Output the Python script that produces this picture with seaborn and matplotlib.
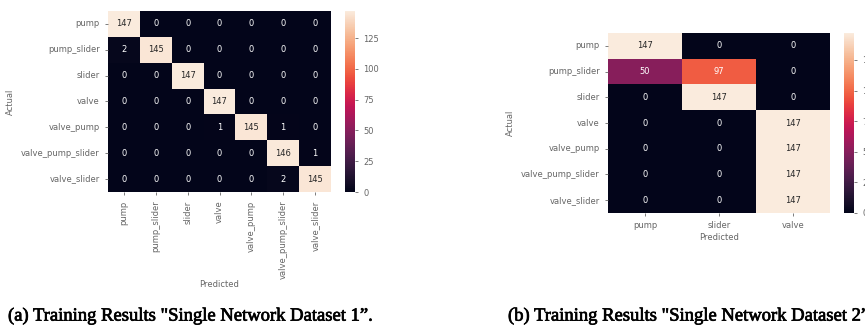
import numpy as np
import pandas as pd
import matplotlib
matplotlib.use("Agg")
import matplotlib.pyplot as plt
import matplotlib.patheffects as pe
import seaborn as sns

# Class names
labels_1 = ["pump", "pump_slider", "slider", "valve", "valve_pump", "valve_pump_slider", "valve_slider"]
pred_2 = ["pump", "slider", "valve"]

# Confusion matrix, dataset 1 (rows = actual, cols = predicted)
cm_pump = [147, 0, 0, 0, 0, 0, 0]
cm_pump_slider = [2, 145, 0, 0, 0, 0, 0]
cm_slider = [0, 0, 147, 0, 0, 0, 0]
cm_valve = [0, 0, 0, 147, 0, 0, 0]
cm_valve_pump = [0, 0, 0, 1, 145, 1, 0]
cm_valve_pump_slider = [0, 0, 0, 0, 0, 146, 1]
cm_valve_slider = [0, 0, 0, 0, 0, 2, 145]

# Confusion matrix, dataset 2 (predicted: pump, slider, valve)
cm2_pred_pump = [147, 50, 0, 0, 0, 0, 0]
cm2_pred_slider = [0, 97, 147, 0, 0, 0, 0]
cm2_pred_valve = [0, 0, 0, 147, 147, 147, 147]

cbar_ticks = [0, 25, 50, 75, 100, 125]

df1 = pd.DataFrame([cm_pump, cm_pump_slider, cm_slider, cm_valve, cm_valve_pump,
                    cm_valve_pump_slider, cm_valve_slider],
                   index=labels_1, columns=labels_1)
df2 = pd.DataFrame({"pump": cm2_pred_pump, "slider": cm2_pred_slider, "valve": cm2_pred_valve},
                   index=labels_1)[pred_2]

W, H = 865, 329
fig = plt.figure(figsize=(W / 100, H / 100), dpi=100)


def box(x0, y0, x1, y1):
    # pixel box -> figure fraction
    return [x0 / W, 1 - y1 / H, (x1 - x0) / W, (y1 - y0) / H]


txt_col = "#666666"
fs = 6


def draw(df, ax, cax, xrot):
    sns.heatmap(df, annot=True, fmt="d", cmap="rocket", vmin=0, vmax=147, ax=ax, cbar_ax=cax,
                annot_kws={"fontsize": fs}, cbar_kws={"ticks": cbar_ticks})
    ax.set_xlabel("Predicted", fontsize=fs, color=txt_col)
    ax.set_ylabel("Actual", fontsize=fs, color=txt_col)
    ax.tick_params(axis="both", labelsize=fs, colors=txt_col, length=2.5, width=0.6)
    ax.set_xticklabels(ax.get_xticklabels(), rotation=xrot)
    ax.set_yticklabels(ax.get_yticklabels(), rotation=0)
    cax.tick_params(labelsize=fs, colors=txt_col, length=2.5, width=0.6)


# (a) Dataset 1
ax1 = fig.add_axes(box(108, 11, 331, 192))
cax1 = fig.add_axes(box(345, 11, 355, 192))
draw(df1, ax1, cax1, 90)
ax1.xaxis.labelpad = 1

# (b) Dataset 2
ax2 = fig.add_axes(box(608, 33, 830, 213))
cax2 = fig.add_axes(box(844, 33, 854, 213))
draw(df2, ax2, cax2, 0)
ax2.xaxis.labelpad = 2

cap_font = {"family": "Liberation Serif", "fontsize": 13.4,
            "path_effects": [pe.withStroke(linewidth=0.5, foreground="black")]}
fig.text(8 / W, 1 - 316 / H, '(a) Training Results "Single Network Dataset 1\u201d.', va="center", ha="left", **cap_font)
fig.text(508 / W, 1 - 316 / H, '(b) Training Results "Single Network Dataset 2\u201d.', va="center", ha="left", **cap_font)

fig.savefig("out.png", dpi=100)
